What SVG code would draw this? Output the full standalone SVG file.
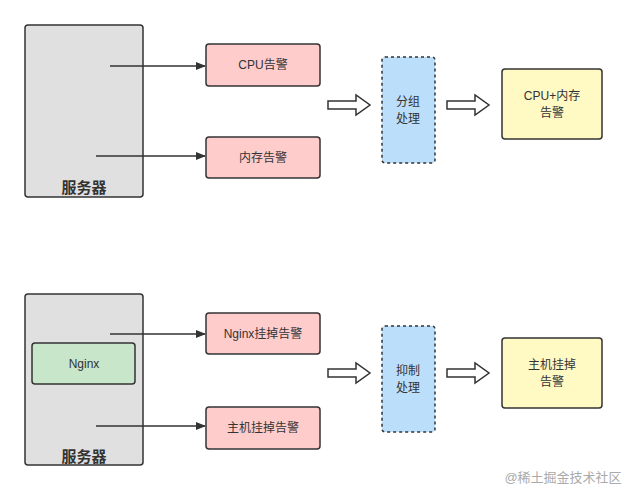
<svg xmlns="http://www.w3.org/2000/svg" width="627" height="491" viewBox="0 0 627 491">
<style>
text{font-family:"Liberation Sans","Noto Sans CJK SC",sans-serif;font-size:12px;fill:#333;text-anchor:middle}
.srv{fill:#e0e0e0;stroke:#333;stroke-width:1.5}
.pink{fill:#ffcccc;stroke:#333;stroke-width:1.5}
.blue{fill:#bbdefb;stroke:#333;stroke-width:1.5;stroke-dasharray:3 3}
.yel{fill:#fff9c4;stroke:#333;stroke-width:1.5}
.grn{fill:#c8e6c9;stroke:#333;stroke-width:1.5}
.ln{stroke:#333;stroke-width:1.5;fill:none}
.big{fill:#fff;stroke:#333;stroke-width:1.5}
</style>
<defs>
<marker id="ah" markerWidth="10" markerHeight="10" refX="9" refY="5" orient="auto" markerUnits="userSpaceOnUse"><path d="M0,1 L10,5 L0,9 Z" fill="#333"/></marker>
<path id="big" d="M0,-4 H28 V-10 L42,0 L28,10 V4 H0 Z"/>
</defs>
<g id="server1"><rect class="srv" x="25" y="25" width="118" height="172" rx="3"/><text x="84" y="193" style="font-size:15px;font-weight:bold">服务器</text></g>
<g id="cpu"><rect class="pink" x="206" y="44" width="114" height="42" rx="3"/><text x="263" y="69">CPU告警</text></g>
<g id="mem"><rect class="pink" x="206" y="137" width="114" height="41" rx="3"/><text x="263" y="162">内存告警</text></g>
<g id="group"><rect class="blue" x="382" y="57" width="53" height="106" rx="3"/><text x="408" y="106">分组</text><text x="408" y="123">处理</text></g>
<g id="res1"><rect class="yel" x="502" y="69" width="100" height="70" rx="3"/><text x="552" y="100">CPU+内存</text><text x="552" y="117">告警</text></g>
<g id="server2"><rect class="srv" x="25" y="294" width="118" height="171" rx="3"/><text x="84" y="462" style="font-size:15px;font-weight:bold">服务器</text></g>
<g id="nginx"><rect class="grn" x="32" y="343" width="103" height="41" rx="3"/><text x="84" y="368">Nginx</text></g>
<g id="ngdown"><rect class="pink" x="206" y="313" width="114" height="41" rx="3"/><text x="263" y="338">Nginx挂掉告警</text></g>
<g id="hostdown"><rect class="pink" x="206" y="407" width="114" height="42" rx="3"/><text x="263" y="432">主机挂掉告警</text></g>
<g id="suppress"><rect class="blue" x="382" y="326" width="53" height="106" rx="3"/><text x="408" y="375">抑制</text><text x="408" y="392">处理</text></g>
<g id="res2"><rect class="yel" x="502" y="338" width="100" height="70" rx="3"/><text x="552" y="369">主机挂掉</text><text x="552" y="386">告警</text></g>
<g id="connectors">
<line class="ln" x1="110" y1="66" x2="205" y2="66" marker-end="url(#ah)"/>
<line class="ln" x1="96" y1="156" x2="205" y2="156" marker-end="url(#ah)"/>
<line class="ln" x1="110" y1="334" x2="205" y2="334" marker-end="url(#ah)"/>
<line class="ln" x1="96" y1="426" x2="205" y2="426" marker-end="url(#ah)"/>
<use href="#big" class="big" x="328" y="105"/>
<use href="#big" class="big" x="447" y="105"/>
<use href="#big" class="big" x="328" y="373"/>
<use href="#big" class="big" x="447" y="373"/>
</g>
<text x="563" y="482" style="font-size:13px;fill:#aaa">@稀土掘金技术社区</text>
</svg>
